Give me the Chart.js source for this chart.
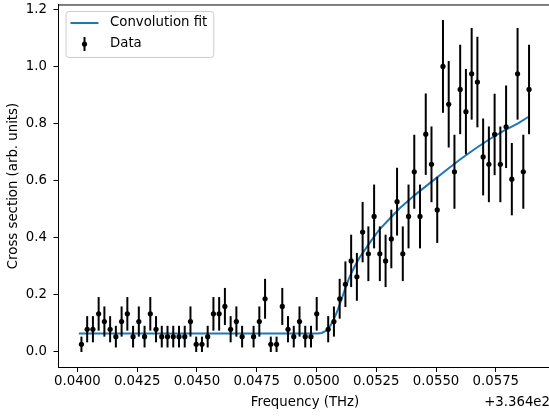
<!DOCTYPE html>
<html>
<head>
<meta charset="utf-8">
<script src="https://cdn.jsdelivr.net/npm/chart.js@4.4.0/dist/chart.umd.min.js"></script>
<style>
  html, body { margin: 0; padding: 0; background: #fff; overflow: hidden; }
  #wrap { position: relative; width: 549px; height: 416px; overflow: hidden; }
  #chart { position: absolute; left: 0; top: -10px; }
</style>
</head>
<body>
<div id="wrap"><canvas id="chart" width="570" height="426"></canvas></div>
<script>
// frequencies are relative to the axis offset shown at the bottom right
const FREQ_OFFSET_TEXT = "+3.364e2";

const freq = [
  0.04017, 0.04041, 0.04065, 0.04089, 0.04113, 0.04137, 0.04161, 0.04185, 0.04209, 0.04233,
  0.04257, 0.04281, 0.04305, 0.04329, 0.04353, 0.04377, 0.04401, 0.04425, 0.04449, 0.04473,
  0.04497, 0.04521, 0.04545, 0.04569, 0.04593, 0.04617, 0.04641, 0.04665, 0.04689,
  0.04737, 0.04761, 0.04785, 0.04809, 0.04833, 0.04857, 0.04881, 0.04905, 0.04929, 0.04953,
  0.04977, 0.05001, 0.05049, 0.05073, 0.05097, 0.05121, 0.05145, 0.05169, 0.05193, 0.05217,
  0.05241, 0.05265, 0.05289, 0.05313, 0.05337, 0.05361, 0.05385, 0.05409, 0.05433, 0.05457,
  0.05481, 0.05505, 0.05529, 0.05553, 0.05577, 0.05601, 0.05625, 0.05649, 0.05673, 0.05697,
  0.05721, 0.05745, 0.05769, 0.05793, 0.05817, 0.05841, 0.05865, 0.05889
];

const crossSection = [
  0.024, 0.077, 0.077, 0.131, 0.104, 0.077, 0.051, 0.104, 0.131, 0.051,
  0.104, 0.051, 0.131, 0.077, 0.051, 0.051, 0.051, 0.051, 0.051, 0.104,
  0.024, 0.024, 0.051, 0.131, 0.131, 0.157, 0.077, 0.104, 0.051,
  0.051, 0.104, 0.184, 0.024, 0.024, 0.157, 0.077, 0.051, 0.104, 0.051,
  0.051, 0.131, 0.077, 0.104, 0.184, 0.235, 0.317, 0.261, 0.418, 0.342,
  0.473, 0.342, 0.317, 0.394, 0.525, 0.342, 0.473, 0.630, 0.473, 0.762,
  0.656, 0.496, 1.000, 0.867, 0.630, 0.919, 0.841, 0.974, 0.945, 0.682,
  0.656, 0.761, 0.656, 0.788, 0.604, 0.974, 0.630, 0.919
];

const crossErr = [
  0.027, 0.046, 0.046, 0.059, 0.053, 0.046, 0.038, 0.053, 0.059, 0.038,
  0.053, 0.038, 0.059, 0.046, 0.038, 0.038, 0.038, 0.038, 0.038, 0.053,
  0.027, 0.027, 0.038, 0.059, 0.059, 0.065, 0.046, 0.053, 0.038,
  0.038, 0.053, 0.070, 0.027, 0.027, 0.065, 0.046, 0.038, 0.053, 0.038,
  0.038, 0.059, 0.046, 0.053, 0.070, 0.080, 0.092, 0.084, 0.106, 0.096,
  0.112, 0.096, 0.092, 0.103, 0.119, 0.096, 0.112, 0.130, 0.112, 0.143,
  0.133, 0.116, 0.163, 0.152, 0.130, 0.157, 0.150, 0.161, 0.159, 0.135,
  0.133, 0.143, 0.133, 0.145, 0.127, 0.161, 0.130, 0.157
];

const fitFreq = [
  0.04006, 0.04512, 0.05005, 0.05022, 0.05039, 0.05055, 0.05072, 0.05089, 0.05106, 0.05122,
  0.05139, 0.05160, 0.05181, 0.05206, 0.05235, 0.05264, 0.05306, 0.05348, 0.05411, 0.05474,
  0.05537, 0.05599, 0.05662, 0.05725, 0.05788, 0.05843, 0.05889
];
const fitValue = [
  0.062, 0.062, 0.062, 0.064, 0.071, 0.085, 0.110, 0.145, 0.185, 0.225,
  0.262, 0.298, 0.330, 0.360, 0.395, 0.428, 0.465, 0.502, 0.548, 0.590,
  0.632, 0.672, 0.710, 0.745, 0.776, 0.800, 0.824
];

const xTicks = [0.0400, 0.0425, 0.0450, 0.0475, 0.0500, 0.0525, 0.0550, 0.0575];
const yTicks = [0.0, 0.2, 0.4, 0.6, 0.8, 1.0, 1.2];

const FONT = "'DejaVu Sans', sans-serif";
const FONT_SIZE = 13.3;
const FIT_COLOR = "#1f77b4";

Chart.defaults.color = "#000";
Chart.defaults.font.family = FONT;
Chart.defaults.font.size = FONT_SIZE;

// vertical error bars, drawn just before the data markers
const errorBars = {
  id: "errorBars",
  beforeDatasetDraw(chart, args) {
    if (args.index !== 1) return;
    const { ctx, scales: { x, y } } = chart;
    ctx.save();
    ctx.strokeStyle = "#000";
    ctx.lineWidth = 2;
    freq.forEach((f, i) => {
      const px = x.getPixelForValue(f);
      ctx.beginPath();
      ctx.moveTo(px, y.getPixelForValue(crossSection[i] - crossErr[i]));
      ctx.lineTo(px, y.getPixelForValue(crossSection[i] + crossErr[i]));
      ctx.stroke();
    });
    ctx.restore();
  }
};

// top spine, offset text and the framed legend in the upper left
const decorations = {
  id: "decorations",
  afterDraw(chart) {
    const { ctx, chartArea } = chart;
    const { left, top, right, bottom } = chartArea;
    ctx.save();

    ctx.strokeStyle = "#000";
    ctx.lineWidth = 1;
    ctx.beginPath();
    ctx.moveTo(left, top + 0.5);
    ctx.lineTo(right, top + 0.5);
    ctx.moveTo(right - 0.5, top);
    ctx.lineTo(right - 0.5, bottom);
    ctx.stroke();

    ctx.font = `${FONT_SIZE}px ${FONT}`;
    ctx.fillStyle = "#000";
    ctx.textAlign = "right";
    ctx.textBaseline = "middle";
    ctx.fillText(FREQ_OFFSET_TEXT, right - 2, chart.height - 13);

    const labels = chart.data.datasets.map((d) => d.label);
    const textW = Math.max(...labels.map((t) => ctx.measureText(t).width));
    const bx = left + 7.5;
    const by = top + 6.5;
    const bw = 44.5 + textW + 6;
    const bh = 46;
    ctx.beginPath();
    ctx.roundRect(bx + 0.5, by + 0.5, bw, bh, 3);
    ctx.fillStyle = "rgba(255,255,255,0.8)";
    ctx.fill();
    ctx.strokeStyle = "#cccccc";
    ctx.stroke();

    const row1 = by + 12;
    const row2 = by + 33;
    ctx.strokeStyle = FIT_COLOR;
    ctx.lineWidth = 2;
    ctx.beginPath();
    ctx.moveTo(bx + 5, row1);
    ctx.lineTo(bx + 33, row1);
    ctx.stroke();

    const mx = bx + 19;
    ctx.strokeStyle = "#000";
    ctx.beginPath();
    ctx.moveTo(mx, row2 - 7);
    ctx.lineTo(mx, row2 + 7);
    ctx.stroke();
    ctx.fillStyle = "#000";
    ctx.beginPath();
    ctx.arc(mx, row2, 2.6, 0, Math.PI * 2);
    ctx.fill();

    ctx.textAlign = "left";
    ctx.fillText(labels[0], bx + 44.5, row1);
    ctx.fillText(labels[1], bx + 44.5, row2);
    ctx.restore();
  }
};

new Chart(document.getElementById("chart"), {
  type: "scatter",
  data: {
    datasets: [
      {
        label: "Convolution fit",
        data: fitFreq.map((f, i) => ({ x: f, y: fitValue[i] })),
        showLine: true,
        borderColor: FIT_COLOR,
        borderWidth: 2,
        pointRadius: 0,
        tension: 0,
        order: 1
      },
      {
        label: "Data",
        data: freq.map((f, i) => ({ x: f, y: crossSection[i] })),
        pointRadius: 2.6,
        pointBackgroundColor: "#000",
        pointBorderWidth: 0,
        order: 0
      }
    ]
  },
  options: {
    responsive: false,
    devicePixelRatio: 1,
    animation: false,
    layout: { padding: { top: 11, right: 18, left: 0, bottom: 0 } },
    plugins: {
      legend: { display: false },
      tooltip: { enabled: false }
    },
    scales: {
      x: {
        type: "linear",
        min: 0.03919,
        max: 0.05985,
        afterBuildTicks: (s) => { s.ticks = xTicks.map((v) => ({ value: v })); },
        afterFit: (s) => { s.height = 48.5; },
        ticks: {
          callback: (v) => v.toFixed(4),
          padding: 2,
          maxRotation: 0,
          autoSkip: false
        },
        grid: { drawOnChartArea: false, drawTicks: true, tickLength: 4.5, tickColor: "#000", tickWidth: 1 },
        border: { display: true, color: "#000", width: 1 },
        title: { display: true, text: "Frequency (THz)", padding: { top: 0, bottom: 5 } }
      },
      y: {
        min: -0.0574,
        max: 1.2174,
        afterBuildTicks: (s) => { s.ticks = yTicks.map((v) => ({ value: v })); },
        afterFit: (s) => { s.width = 58; },
        ticks: {
          callback: (v) => v.toFixed(1),
          padding: 6.5
        },
        grid: { drawOnChartArea: false, drawTicks: true, tickLength: 4.5, tickColor: "#000", tickWidth: 1 },
        border: { display: true, color: "#000", width: 1 },
        title: { display: true, text: "Cross section (arb. units)", padding: { top: 6, bottom: 0 } }
      }
    }
  },
  plugins: [errorBars, decorations]
});
</script>
</body>
</html>
